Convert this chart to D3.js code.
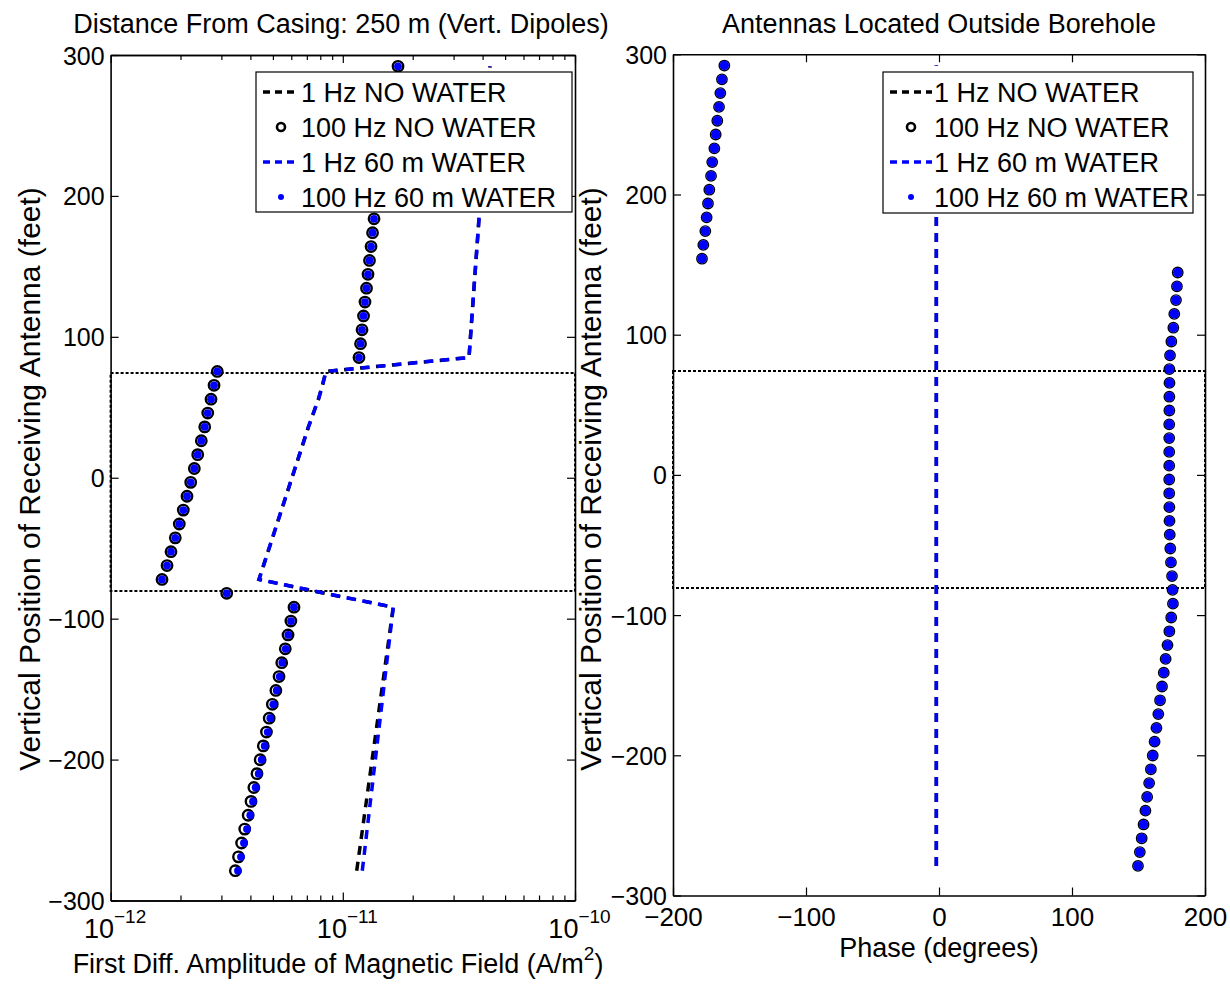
<!DOCTYPE html>
<html>
<head>
<meta charset="utf-8">
<script src="https://cdn.jsdelivr.net/npm/d3@7"></script>
<style>
  body { margin: 0; background: #fff; }
  text { font-family: "Liberation Sans", Arial, Helvetica, sans-serif; fill: #000; }
</style>
</head>
<body>
<svg id="fig" width="1230" height="986"></svg>
<script>
// receiver positions (feet), 3 m spacing from -85 m to 89 m
var depthFt = [-278.87, -269.03, -259.19, -249.34, -239.50, -229.66, -219.82, -209.97, -200.13, -190.29,
  -180.45, -170.60, -160.76, -150.92, -141.08, -131.23, -121.39, -111.55, -101.71, -91.86,
  -82.02,
  -72.18, -62.34, -52.49, -42.65, -32.81, -22.97, -13.12, -3.28, 6.56, 16.40, 26.25, 36.09, 45.93, 55.77, 65.62, 75.46,
  85.30, 95.14, 104.99, 114.83, 124.67, 134.51, 144.36, 154.20, 164.04, 173.88, 183.73, 193.57, 203.41,
  213.25, 223.10, 232.94, 242.78, 252.62, 262.47, 272.31, 282.15, 291.99];

// first difference amplitude, in units of 1e-12 A/m^2
var amp1HzNoWater = [11.48, 11.70, 11.93, 12.16, 12.39, 12.63, 12.87, 13.12, 13.37, 13.63,
  13.89, 14.16, 14.43, 14.71, 15.00, 15.28, 15.58, 15.88, 16.18, 16.49,
  8.38,
  4.356, 4.555, 4.762, 4.980, 5.207, 5.444, 5.692, 5.952, 6.223, 6.507, 6.804, 7.114, 7.475, 7.855, 8.173, 8.462,
  34.95, 35.30, 35.65, 36.00, 36.36, 36.72, 37.09, 37.46, 37.83, 38.21, 38.59,
  38.97, 39.36, 39.75, 40.15, 40.55, 40.95, 41.36, 41.77, 42.19, 42.61, 43.03];
var amp100HzNoWater = [3.444, 3.553, 3.665, 3.781, 3.912, 4.024, 4.139, 4.270, 4.406, 4.546,
  4.690, 4.819, 4.971, 5.149, 5.313, 5.457, 5.653, 5.809, 5.975, 6.163,
  3.162,
  1.665, 1.750, 1.820, 1.899, 1.976, 2.056, 2.133, 2.213, 2.294, 2.372, 2.458, 2.543, 2.620, 2.707, 2.789, 2.881,
  11.74, 11.92, 12.10, 12.28, 12.46, 12.65, 12.84, 13.03, 13.23, 13.43, 13.63,
  13.83, 14.04, 14.32, 14.61, 14.90, 15.20, 15.58, 15.97, 16.37, 16.78, 17.29];
var amp1HzWater = [12.13, 12.33, 12.53, 12.73, 12.94, 13.15, 13.37, 13.58, 13.81, 14.03,
  14.26, 14.49, 14.73, 14.97, 15.21, 15.46, 15.71, 15.97, 16.23, 16.49,
  8.38,
  4.356, 4.555, 4.762, 4.980, 5.207, 5.444, 5.692, 5.952, 6.223, 6.507, 6.804, 7.114, 7.475, 7.855, 8.173, 8.462,
  34.95, 35.30, 35.65, 36.00, 36.36, 36.72, 37.09, 37.46, 37.83, 38.21, 38.59,
  38.97, 39.36, 39.75, 40.15, 40.55, 40.95, 41.36, 41.77, 42.19, 42.61, 43.03];
var amp100HzWater = [3.537, 3.644, 3.753, 3.867, 3.995, 4.104, 4.215, 4.342, 4.474, 4.610,
  4.749, 4.873, 5.020, 5.192, 5.350, 5.488, 5.677, 5.825, 5.983, 6.163,
  3.162,
  1.665, 1.750, 1.820, 1.899, 1.976, 2.056, 2.133, 2.213, 2.294, 2.372, 2.458, 2.543, 2.620, 2.707, 2.789, 2.881,
  11.74, 11.92, 12.10, 12.28, 12.46, 12.65, 12.84, 13.03, 13.23, 13.43, 13.63,
  13.83, 14.04, 14.32, 14.61, 14.90, 15.20, 15.58, 15.97, 16.37, 16.78, 17.29];

// phase (degrees)
var phase1Hz = [-2, -2, -2, -2, -2, -2, -2, -2, -2, -2, -2, -2, -2, -2, -2, -2, -2, -2, -2, -2,
  -2,
  -2, -2, -2, -2, -2, -2, -2, -2, -2, -2, -2, -2, -2, -2, -2, -2,
  -2, -2, -2, -2, -2, -2, -2, -2, -2, -2, -2, -2, -2, -2, -2, -2, -2, -2, -2, -2, -2, -2];
var phase100Hz = [149.6, 151.0, 152.4, 153.8, 155.2, 156.5, 158.0, 159.3, 160.7, 162.1,
  163.5, 164.9, 166.2, 167.7, 169.0, 170.4, 171.8, 173.2, 174.6, 175.9,
  175.6,
  175.2, 174.4, 173.9, 173.5, 173.3, 173.2, 173.1, 173.1, 173.1, 173.1, 173.1, 173.1, 173.2, 173.2, 173.3, 173.2,
  173.7, 174.7, 176.2, 176.9, 178.2, 178.9, 179.5,
  -178.2, -177.2, -175.7, -174.7, -173.7, -172.7, -171.4, -170.5, -168.9, -167.9, -166.7, -165.4, -164.4, -163.2, -161.4];

// casing/water zone boundaries (feet)
var zoneFt = [-81, 74];

var legendLabels = ["1 Hz NO WATER", "100 Hz NO WATER", "1 Hz 60 m WATER", "100 Hz 60 m WATER"];
var ampMajor = [1e-12, 1e-11, 1e-10];
var ampExp = ["\u221212", "\u221211", "\u221210"];
var phaseTicks = [-200, -100, 0, 100, 200];
var depthTicks = [-300, -200, -100, 0, 100, 200, 300];

var FS_TICK = 25, FS_TEXT = 27, FS_YLAB = 30;
var BLUE = "#0000ff";
var DASH = "9,7";
var svg = d3.select("#fig");

function pairs(xs) {
  return xs.map(function(v, i) { return [v, depthFt[i]]; });
}

function frame(x, y, xTickVals, xMinorVals) {
  var g = svg.append("g");
  var xr = x.range(), yr = y.range();
  var bottom = yr[0], top = yr[1];
  if (xMinorVals) {
    g.append("g").attr("transform", "translate(0," + bottom + ")")
      .call(d3.axisBottom(x).tickValues(xMinorVals).tickSize(-5).tickSizeOuter(0).tickFormat(""));
    g.append("g").attr("transform", "translate(0," + top + ")")
      .call(d3.axisTop(x).tickValues(xMinorVals).tickSize(-5).tickSizeOuter(0).tickFormat(""));
  }
  var bx = g.append("g").attr("transform", "translate(0," + bottom + ")")
    .call(d3.axisBottom(x).tickValues(xTickVals).tickSize(-8).tickSizeOuter(0).tickPadding(10));
  g.append("g").attr("transform", "translate(0," + top + ")")
    .call(d3.axisTop(x).tickValues(xTickVals).tickSize(-8).tickSizeOuter(0).tickFormat(""));
  var ly = g.append("g").attr("transform", "translate(" + xr[0] + ",0)")
    .call(d3.axisLeft(y).tickValues(depthTicks).tickSize(-8).tickSizeOuter(0).tickPadding(6));
  g.append("g").attr("transform", "translate(" + xr[1] + ",0)")
    .call(d3.axisRight(y).tickValues(depthTicks).tickSize(-8).tickSizeOuter(0).tickFormat(""));
  g.selectAll("path.domain").attr("stroke", "#000").attr("stroke-width", 1.6);
  g.selectAll(".tick line").attr("stroke", "#000").attr("stroke-width", 1.2);
  g.selectAll(".tick text").attr("font-size", FS_TICK).attr("font-family", null).attr("fill", "#000");
  ly.selectAll(".tick text").attr("dy", "0.36em");
  return {g: g, bx: bx};
}

function zoneBox(x, y) {
  var xr = x.range();
  svg.append("rect")
    .attr("x", xr[0]).attr("y", Math.round(y(zoneFt[1])))
    .attr("width", xr[1] - xr[0]).attr("height", Math.round(y(zoneFt[0]) - y(zoneFt[1])))
    .attr("fill", "none").attr("stroke", "#000")
    .attr("stroke-width", 2).attr("stroke-dasharray", "3,2");
}

function dashed(x, y, xs, color) {
  var line = d3.line().x(function(d) { return x(d[0]); }).y(function(d) { return y(d[1]); });
  svg.append("path").datum(pairs(xs)).attr("d", line)
    .attr("fill", "none").attr("stroke", color).attr("stroke-width", 3.5)
    .attr("stroke-dasharray", DASH);
}

function rings(x, y, xs, r, sw) {
  svg.append("g").selectAll("circle").data(pairs(xs)).enter().append("circle")
    .attr("cx", function(d) { return x(d[0]); })
    .attr("cy", function(d) { return y(d[1]); })
    .attr("r", r).attr("fill", "none").attr("stroke", "#000").attr("stroke-width", sw);
}

function dots(x, y, xs, r) {
  svg.append("g").selectAll("circle").data(pairs(xs)).enter().append("circle")
    .attr("cx", function(d) { return x(d[0]); })
    .attr("cy", function(d) { return y(d[1]); })
    .attr("r", r).attr("fill", BLUE);
}

function legend(x0, y0, w, h, sampleW) {
  var g = svg.append("g").attr("transform", "translate(" + x0 + "," + y0 + ")");
  g.append("rect").attr("width", w).attr("height", h)
    .attr("fill", "#fff").attr("stroke", "#000").attr("stroke-width", 1.2);
  legendLabels.forEach(function(lab, i) {
    var cy = 20 + i * 35;
    var sx0 = 7, sx1 = 7 + sampleW;
    if (i == 0 || i == 2) {
      g.append("line").attr("x1", sx0).attr("x2", sx1).attr("y1", cy).attr("y2", cy)
        .attr("stroke", i == 0 ? "#000" : BLUE).attr("stroke-width", 3.5)
        .attr("stroke-dasharray", "7,5");
    } else if (i == 1) {
      g.append("circle").attr("cx", (sx0 + sx1) / 2).attr("cy", cy).attr("r", 4)
        .attr("fill", "none").attr("stroke", "#000").attr("stroke-width", 2.6);
    } else {
      g.append("circle").attr("cx", (sx0 + sx1) / 2).attr("cy", cy).attr("r", 3).attr("fill", BLUE);
    }
    g.append("text").attr("x", sx1 + 2).attr("y", cy).attr("dy", "0.36em")
      .attr("font-size", FS_TEXT).text(lab);
  });
}

// ---------- left panel: amplitude ----------
var xA = d3.scaleLog().domain([1e-12, 1e-10]).range([110.6, 575]);
var yA = d3.scaleLinear().domain([-300, 300]).range([900.5, 55]);
var ampMinor = [];
[1e-12, 1e-11].forEach(function(dec) {
  for (var k = 2; k <= 9; k++) ampMinor.push(k * dec);
});

var toAmp = function(arr) { return arr.map(function(v) { return v * 1e-12; }); };

zoneBox(xA, yA);
dashed(xA, yA, toAmp(amp1HzNoWater), "#000");
rings(xA, yA, toAmp(amp100HzNoWater), 5.2, 2.4);
dashed(xA, yA, toAmp(amp1HzWater), BLUE);
dots(xA, yA, toAmp(amp100HzWater), 3.9);
var fa = frame(xA, yA, ampMajor, ampMinor);
fa.bx.selectAll(".tick text").each(function(d, i) {
  var t = d3.select(this).text("").attr("dy", null).attr("y", 37).attr("x", 4)
    .attr("font-size", FS_TEXT).attr("text-anchor", "middle");
  t.append("tspan").text("10");
  t.append("tspan").attr("dy", -15).attr("font-size", 19).text(ampExp[i]);
});
legend(256, 72, 316, 140, 36);

svg.append("text").attr("x", 341).attr("y", 33).attr("text-anchor", "middle")
  .attr("font-size", FS_TEXT).text("Distance From Casing: 250 m (Vert. Dipoles)");
var xl = svg.append("text").attr("x", 338).attr("y", 973).attr("text-anchor", "middle")
  .attr("font-size", FS_TEXT);
xl.append("tspan").text("First Diff. Amplitude of Magnetic Field (A/m");
xl.append("tspan").attr("dy", -13).attr("font-size", 19).text("2");
xl.append("tspan").attr("dy", 13).text(")");
svg.append("text").attr("transform", "translate(40,479) rotate(-90)").attr("text-anchor", "middle")
  .attr("font-size", FS_YLAB).text("Vertical Position of Receiving Antenna (feet)");

// ---------- right panel: phase ----------
var xP = d3.scaleLinear().domain([-200, 200]).range([673, 1205]);
var yP = d3.scaleLinear().domain([-300, 300]).range([895.5, 54.3]);

zoneBox(xP, yP);
dashed(xP, yP, phase1Hz, "#000");
rings(xP, yP, phase100Hz, 5.2, 1.4);
dashed(xP, yP, phase1Hz, BLUE);
dots(xP, yP, phase100Hz, 4.7);
var fp = frame(xP, yP, phaseTicks, null);
fp.bx.selectAll(".tick text").attr("y", 12).attr("dy", "0.71em").attr("font-size", 26);
legend(883, 72, 310, 141, 42);

svg.append("text").attr("x", 939).attr("y", 33).attr("text-anchor", "middle")
  .attr("font-size", FS_TEXT).text("Antennas Located Outside Borehole");
svg.append("text").attr("x", 939).attr("y", 957).attr("text-anchor", "middle")
  .attr("font-size", FS_TEXT).text("Phase (degrees)");
svg.append("text").attr("transform", "translate(601,479) rotate(-90)").attr("text-anchor", "middle")
  .attr("font-size", FS_YLAB).text("Vertical Position of Receiving Antenna (feet)");
</script>
</body>
</html>
